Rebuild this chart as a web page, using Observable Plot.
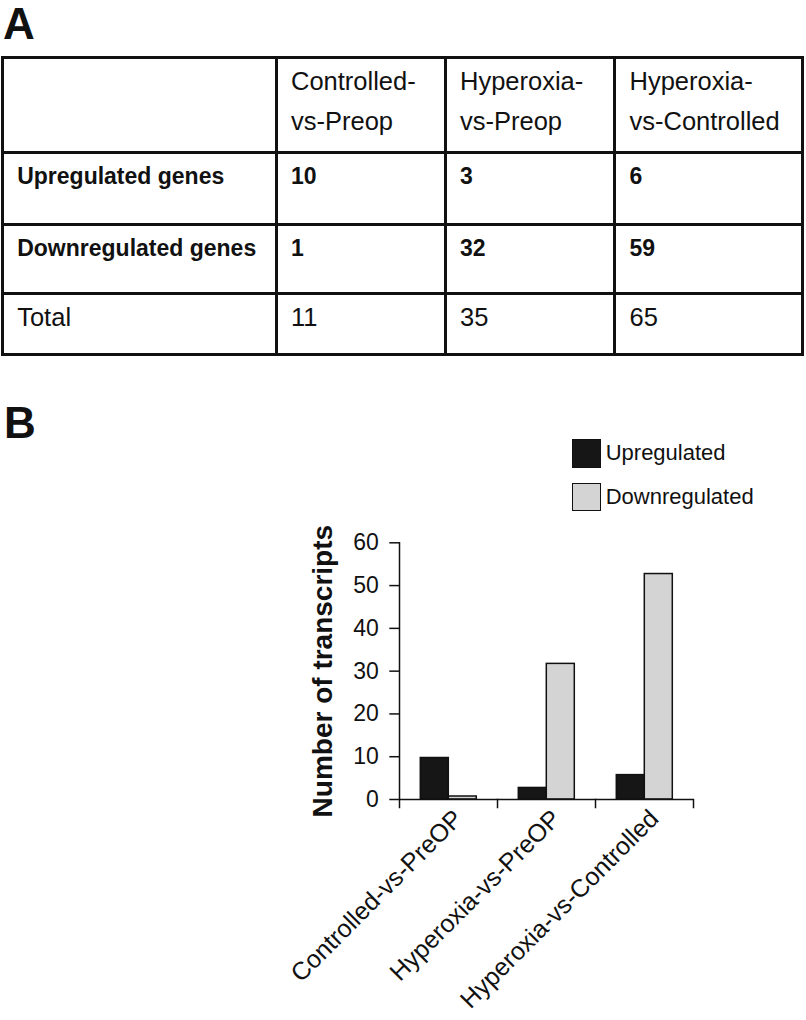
<!DOCTYPE html>
<html>
<head>
<meta charset="utf-8">
<script src="https://cdn.jsdelivr.net/npm/d3@7"></script>
<script src="https://cdn.jsdelivr.net/npm/@observablehq/plot@0.6"></script>
<style>
  html, body { margin: 0; padding: 0; background: #fff; }
  body { width: 806px; height: 1020px; position: relative; overflow: hidden;
         font-family: "Liberation Sans", Arial, sans-serif; color: #111; }
  .panel-label { position: absolute; font-weight: bold; font-size: 44px; line-height: 1; }
  #tbl { position: absolute; left: 1.2px; top: 56.2px; border-collapse: collapse;
         table-layout: fixed; border: 3px solid #111; }
  #tbl td { border: 3px solid #111; vertical-align: top; padding: 2px 0 0 13px;
            line-height: 40px; font-size: 25.5px; white-space: pre; box-sizing: border-box; }
  #tbl td.b { font-weight: bold; font-size: 23px; }
  #legend { position: absolute; left: 572px; top: 439px; font-size: 22px; }
  #legend .item { display: flex; align-items: center; height: 28.7px; margin-bottom: 15px; }
  #legend .sw { width: 26.7px; height: 26.7px; border: 1px solid #111; margin-right: 5px; }
  #chart { position: absolute; left: 0; top: 500px; }
  #chart svg [aria-label="y-axis label"] text { font-weight: bold; font-size: 28px; }
</style>
</head>
<body>
<div class="panel-label" style="left:3px; top:2px;">A</div>
<table id="tbl"></table>
<div class="panel-label" style="left:4px; top:401px;">B</div>
<div id="legend"></div>
<div id="chart"></div>
<script>
// ---- Table data (panel A) ----
const tableColumns = ["Controlled-\nvs-Preop", "Hyperoxia-\nvs-Preop", "Hyperoxia-\nvs-Controlled"];
const tableRowLabels = ["Upregulated genes", "Downregulated genes", "Total"];
const upregulatedGenes = [10, 3, 6];
const downregulatedGenes = [1, 32, 59];
const totalGenes = [11, 35, 65];

// ---- Chart data (panel B) ----
const categories = ["Controlled-vs-PreOP", "Hyperoxia-vs-PreOP", "Hyperoxia-vs-Controlled"];
const series = ["Upregulated", "Downregulated"];
const seriesColors = ["#161616", "#d4d4d4"];
const upregulatedBars = [9.7, 2.7, 5.7];
const downregulatedBars = [0.7, 31.7, 52.7];
const yTicks = [0, 10, 20, 30, 40, 50, 60];
const yLabel = "Number of transcripts";

// ---- Build table ----
const colWidths = [273.8, 169, 169.5, 187.5];
const rowHeights = [95, 71.6, 69, 61.2];
const tbl = d3.select("#tbl");
tbl.append("colgroup").selectAll("col").data(colWidths).join("col").style("width", d => d + "px");
tbl.style("width", d3.sum(colWidths) + "px");
const tableRows = [
  {label: "", values: tableColumns, bold: false},
  {label: tableRowLabels[0], values: upregulatedGenes, bold: true},
  {label: tableRowLabels[1], values: downregulatedGenes, bold: true},
  {label: tableRowLabels[2], values: totalGenes, bold: false}
];
tableRows.forEach((r, i) => {
  const tr = tbl.append("tr").style("height", rowHeights[i] + "px");
  [r.label, ...r.values].forEach(v => {
    tr.append("td").attr("class", r.bold ? "b" : null).text(v);
  });
});

// ---- Legend ----
const legend = d3.select("#legend");
series.forEach((s, i) => {
  const it = legend.append("div").attr("class", "item");
  it.append("div").attr("class", "sw").style("background", seriesColors[i]);
  it.append("span").text(s);
});

// ---- Bar chart ----
const rows = [];
categories.forEach((c, i) => {
  rows.push({category: c, series: series[0], value: upregulatedBars[i]});
  rows.push({category: c, series: series[1], value: downregulatedBars[i]});
});

const W = 806, H = 520;
const mTop = 42.3, mBottom = 221, mLeft = 397.7, mRight = 112.3;
const frameH = H - mTop - mBottom;

const plot = Plot.plot({
  width: W, height: H,
  marginTop: mTop, marginBottom: mBottom, marginLeft: mLeft, marginRight: mRight,
  style: {fontFamily: "'Liberation Sans', Arial, sans-serif", color: "#111", background: "transparent", overflow: "visible"},
  fx: {domain: categories, padding: 0, label: null, axis: null},
  x: {domain: series, paddingInner: 0, paddingOuter: 0.73, axis: null},
  y: {domain: [0, 60], label: yLabel, axis: null},
  color: {domain: series, range: seriesColors},
  marks: [
    Plot.barY(rows, {fx: "category", x: "series", y: "value", fill: "series", stroke: "#111", strokeWidth: 1.5}),
    Plot.ruleY([0], {stroke: "#111", strokeWidth: 1.5}),
    Plot.frame({anchor: "left", facetAnchor: "left", insetBottom: -8, stroke: "#111", strokeWidth: 1.5}),
    Plot.frame({anchor: "right", insetTop: frameH, insetBottom: -8, stroke: "#111", strokeWidth: 1.5}),
    Plot.axisY({ticks: yTicks, tickSize: 9.7, tickPadding: 11, fontSize: 23, strokeWidth: 1.5,
                label: yLabel, labelAnchor: "center", labelArrow: "none", labelOffset: 87}),
    Plot.axisFx({anchor: "bottom", tickSize: 0, tickRotate: -45, fontSize: 25, tickPadding: 15, dx: 10, label: null})
  ]
});
document.getElementById("chart").appendChild(plot);
</script>
</body>
</html>
